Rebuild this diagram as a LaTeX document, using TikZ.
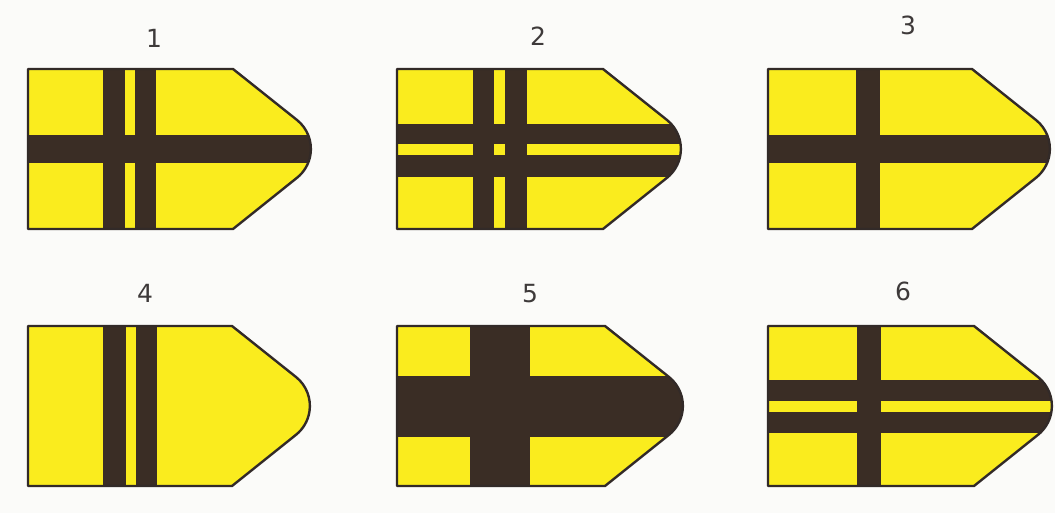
\documentclass[tikz,border=0pt]{standalone}
\usepackage{fontspec}
\setmainfont{DejaVu Sans}
\definecolor{bgc}{RGB}{251,251,249}
\definecolor{yel}{RGB}{250,236,30}
\definecolor{brn}{RGB}{58,45,37}
\definecolor{edgec}{RGB}{50,42,40}
\definecolor{numc}{RGB}{62,58,58}
\tikzset{
  numlabel/.style={text=numc, font=\fontsize{25}{25}\selectfont, inner sep=0pt, anchor=center},
  stripe/.style={fill=brn},
  outline/.style={draw=edgec, line width=2.4pt, line join=round},
}
% #1 left x, #2 end of straight edge, #3 top y, #4 bottom y (pixel coordinates)
\newcommand{\shieldpath}[4]{(#1,#3) -- (#2,#3) -- ++(64,51) arc[start angle=-51.34, end angle=51.34, radius=37] -- (#2,#4) -- (#1,#4) -- cycle}
\begin{document}
\begin{tikzpicture}[x=1pt,y=-1pt]
\fill[bgc] (0,0) rectangle (1055,513);
\useasboundingbox (0,0) rectangle (1055,513);

% ---- 1 ----
\begin{scope}
  \clip \shieldpath{28}{233}{69}{229};
  \fill[yel] (0,0) rectangle (1055,513);
  \fill[stripe] (103,0) rectangle (125,300);
  \fill[stripe] (135,0) rectangle (156,300);
  \fill[stripe] (0,135) rectangle (400,163);
\end{scope}
\draw[outline] \shieldpath{28}{233}{69}{229};
\node[numlabel] (n1) at (154,38) {1};

% ---- 2 ----
\begin{scope}
  \clip \shieldpath{397}{603}{69}{229};
  \fill[yel] (0,0) rectangle (1055,513);
  \fill[stripe] (473,0) rectangle (494,300);
  \fill[stripe] (505,0) rectangle (527,300);
  \fill[stripe] (0,124) rectangle (800,144);
  \fill[stripe] (0,155) rectangle (800,177);
\end{scope}
\draw[outline] \shieldpath{397}{603}{69}{229};
\node[numlabel] (n2) at (538,36) {2};

% ---- 3 ----
\begin{scope}
  \clip \shieldpath{768}{972}{69}{229};
  \fill[yel] (0,0) rectangle (1055,513);
  \fill[stripe] (856,0) rectangle (880,300);
  \fill[stripe] (0,135) rectangle (1100,163);
\end{scope}
\draw[outline] \shieldpath{768}{972}{69}{229};
\node[numlabel] (n3) at (908,25) {3};

% ---- 4 ----
\begin{scope}
  \clip \shieldpath{28}{232}{326}{486};
  \fill[yel] (0,0) rectangle (1055,513);
  \fill[stripe] (103,300) rectangle (126,513);
  \fill[stripe] (136,300) rectangle (157,513);
\end{scope}
\draw[outline] \shieldpath{28}{232}{326}{486};
\node[numlabel] (n4) at (145,293) {4};

% ---- 5 ----
\begin{scope}
  \clip \shieldpath{397}{605}{326}{486};
  \fill[yel] (0,0) rectangle (1055,513);
  \fill[stripe] (470,300) rectangle (530,513);
  \fill[stripe] (0,376) rectangle (800,437);
\end{scope}
\draw[outline] \shieldpath{397}{605}{326}{486};
\node[numlabel] (n5) at (530,294) {5};

% ---- 6 ----
\begin{scope}
  \clip \shieldpath{768}{974}{326}{486};
  \fill[yel] (0,0) rectangle (1055,513);
  \fill[stripe] (857,300) rectangle (881,513);
  \fill[stripe] (0,380) rectangle (1100,401);
  \fill[stripe] (0,412) rectangle (1100,433);
\end{scope}
\draw[outline] \shieldpath{768}{974}{326}{486};
\node[numlabel] (n6) at (903,291) {6};
\end{tikzpicture}
\end{document}
